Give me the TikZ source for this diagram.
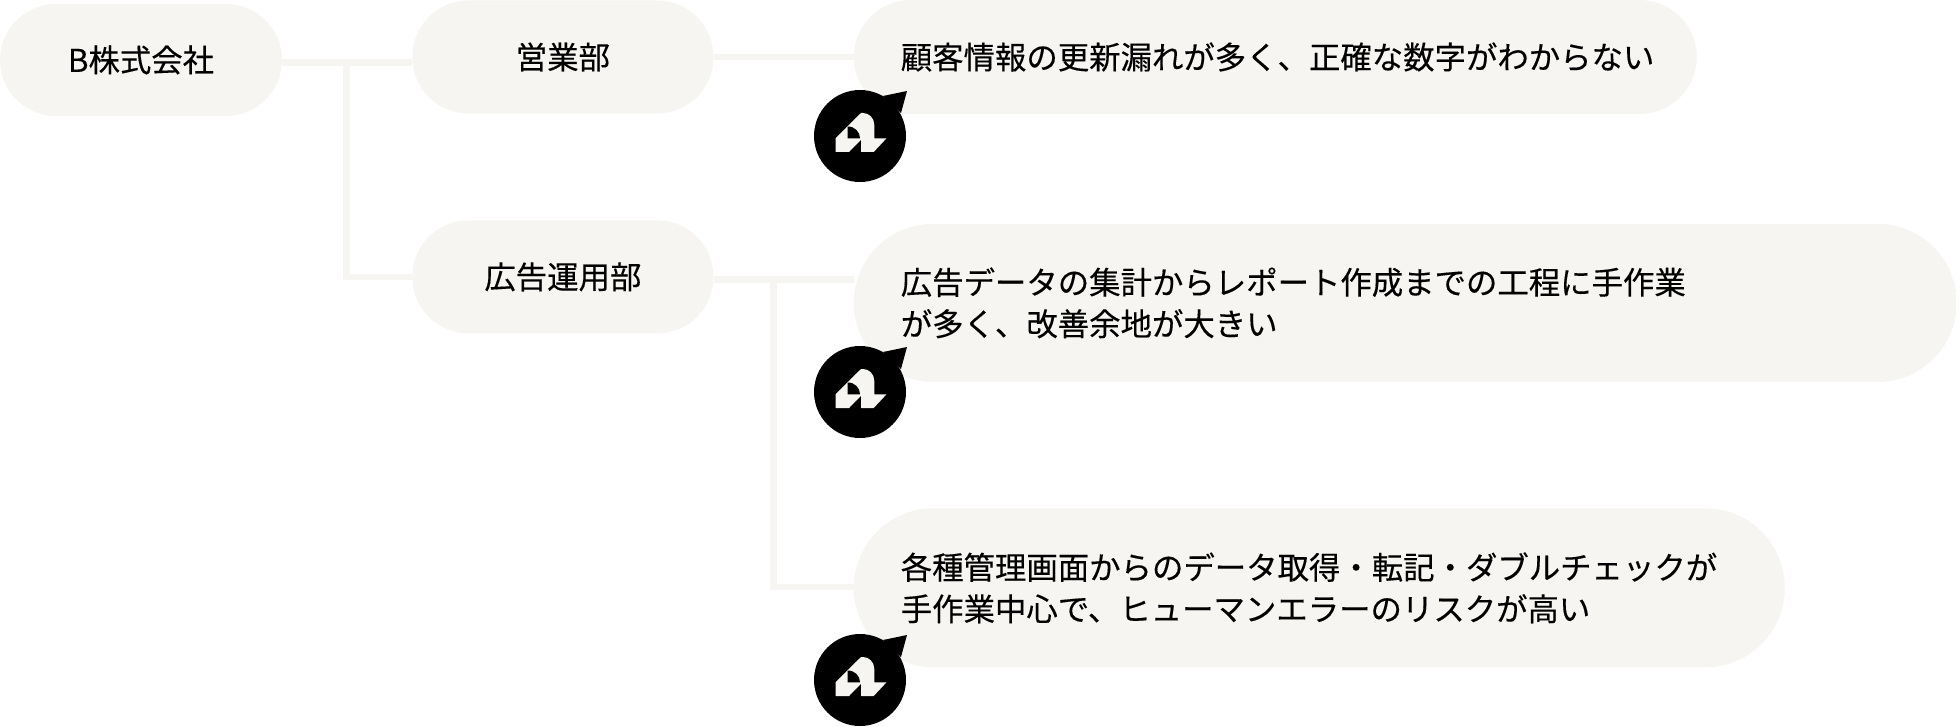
\documentclass[tikz,border=0pt]{standalone}
\usepackage{xcolor}
\usepackage{fontspec}
\usepackage{tikz}
\usetikzlibrary{positioning,calc}
\setmainfont[FakeBold=0.3]{Noto Sans CJK JP}
\definecolor{ink}{HTML}{000000}
\definecolor{paper}{HTML}{F6F5F1}

\begin{document}
\begin{tikzpicture}[
 x=1pt,y=-1pt,
 pill/.style={fill=paper,rounded corners=#1,inner ysep=0pt,font=\fontsize{31.4}{41.5}\selectfont,text=ink},
 unit/.style={pill=56pt,minimum width=301pt,minimum height=113pt,inner xsep=0pt},
 issue/.style 2 args={pill=#2,minimum height=2*#2,text width=#1-94pt,inner xsep=47pt,align=left},
 link/.style={draw=paper,line width=6.5pt},
 mascot/.pic={
  \fill[ink] (0,0) circle[radius=46];
  \fill[ink] (23,-40) -- (47,-45) -- (41,-23) -- cycle;
  \fill[paper] (-24.5,2.3) -- (-24.5,16) -- (-11,16) -- (1,3.8) -- (1,16) -- (13.7,16) -- (26.5,2.3) -- (14.3,2.3) -- (14.3,-11)
   .. controls (14.3,-18) and (9,-23) .. (3,-23) -- (1,-23) -- cycle;
  \fill[ink] (-12.3,-9.5) .. controls (-5,-9.5) and (0,-4) .. (0,2.3) -- (-12.3,2.3) -- cycle;
 }
]
\useasboundingbox (0,0) rectangle (1956,727);
\node[pill=56pt,minimum width=282pt,minimum height=112pt,inner xsep=0pt] (comp) at (141,60) {B株式会社};
\node[unit,right=130pt of comp,yshift=3pt] (sales) {営業部};
\node[unit,below=106.5pt of sales] (ads) {広告運用部};
\node[issue={843pt}{57pt},right=140pt of sales] (lag) {顧客情報の更新漏れが多く、正確な数字がわからない};
\node[issue={1103pt}{79pt},right=140pt of ads,yshift=-26pt] (report) {広告データの集計からレポート作成までの工程に手作業\\が多く、改善余地が大きい};
\node[issue={931pt}{79.5pt},below=126pt of report.south west,anchor=north west] (manual) {各種管理画面からのデータ取得・転記・ダブルチェックが\\手作業中心で、ヒューマンエラーのリスクが高い};
\coordinate (compout) at ($(comp.east)+(0,2.5)$);
\coordinate (adsout) at ($(ads.east)+(0,2.5)$);
\coordinate (comptap) at ($(compout)+(64.5,0)$);
\coordinate (adstap) at ($(adsout)+(60,0)$);
\coordinate (manualin) at ($(manual.west)+(0,-1)$);
\draw[link] (compout) -- (compout -| sales.west);
\draw[link] (comptap) |- (ads.west);
\draw[link] (sales.east) -- (sales.east -| lag.west);
\draw[link] (adsout) -- (adsout -| report.west);
\draw[link] (adstap) |- (manualin);
\foreach \y in {136,392,680}
 \pic at (860,\y) {mascot};
\end{tikzpicture}
\end{document}
